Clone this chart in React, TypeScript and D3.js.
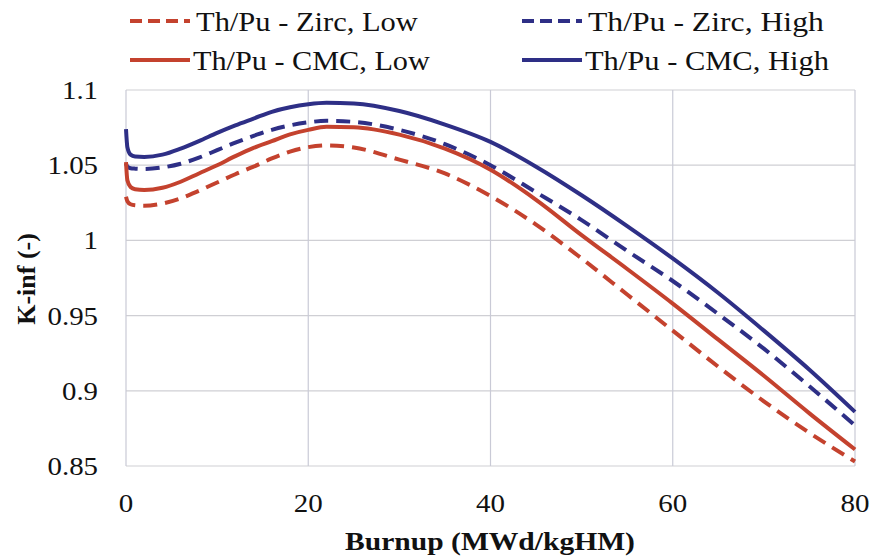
import React, { useEffect, useRef } from "react";
import * as d3 from "d3";

// burnup grid (MWd/kgHM) shared by all four series
const burnup = [0, 0.15, 0.5, 1, 2, 4, 6, 8, 10, 12, 14, 16, 18, 20, 22, 25, 30, 35, 40, 45, 50, 55, 60, 65, 70, 75, 80];

const zircLow = [1.029, 1.026, 1.024, 1.0233, 1.023, 1.0245, 1.028, 1.033, 1.0385, 1.044, 1.049, 1.0545, 1.059, 1.062, 1.0632, 1.0618, 1.0537, 1.0445, 1.0295, 1.0105, 0.988, 0.964, 0.94, 0.916, 0.893, 0.872, 0.853];
const zircHigh = [1.051, 1.049, 1.048, 1.0477, 1.0475, 1.0485, 1.051, 1.055, 1.06, 1.065, 1.0695, 1.0735, 1.0765, 1.0785, 1.0795, 1.0788, 1.0735, 1.064, 1.05, 1.032, 1.0135, 0.993, 0.973, 0.951, 0.928, 0.903, 0.877];
const cmcLow = [1.052, 1.04, 1.0355, 1.034, 1.0335, 1.035, 1.039, 1.0445, 1.05, 1.056, 1.0615, 1.066, 1.0705, 1.0735, 1.0755, 1.0752, 1.0703, 1.061, 1.047, 1.027, 1.0035, 0.981, 0.958, 0.934, 0.91, 0.885, 0.861];
const cmcHigh = [1.074, 1.062, 1.057, 1.0558, 1.0555, 1.057, 1.061, 1.066, 1.0715, 1.0765, 1.081, 1.0855, 1.0885, 1.0905, 1.0915, 1.091, 1.086, 1.077, 1.0655, 1.049, 1.03, 1.0095, 0.988, 0.965, 0.94, 0.914, 0.886];

const seriesNames = ["Th/Pu - Zirc, Low", "Th/Pu - Zirc, High", "Th/Pu - CMC, Low", "Th/Pu - CMC, High"];
const xTicks = [0, 20, 40, 60, 80];
const yTicks = [0.85, 0.9, 0.95, 1, 1.05, 1.1];
const yTickLabels = ["0.85", "0.9", "0.95", "1", "1.05", "1.1"];

const RED = "#c4422e";
const BLUE = "#2e2f86";

export default function App() {
  const ref = useRef<SVGSVGElement>(null);

  useEffect(() => {
    const svg = d3.select(ref.current);
    svg.selectAll("*").remove();

    const x = d3.scaleLinear().domain([0, 80]).range([126, 855]);
    const y = d3.scaleLinear().domain([0.85, 1.1]).range([466, 90]);

    const font = "'Liberation Serif', 'Times New Roman', Times, Tinos, 'Nimbus Roman', 'DejaVu Serif Condensed', serif";

    // text squeezed/stretched so it spans roughly the same width as in the original
    const txt = (s: string, tx: number, ty: number, size: number, anchor: string, width: number, bold = false) => {
      const t = svg
        .append("text")
        .attr("text-anchor", anchor)
        .style("font-family", font)
        .attr("font-size", size)
        .attr("font-weight", bold ? "bold" : "normal")
        .attr("fill", "#111")
        .text(s);
      const w = (t.node() as SVGTextElement).getComputedTextLength();
      const k = w > 0 ? width / w : 1;
      t.attr("transform", `translate(${tx},${ty}) scale(${k},1)`);
      return t;
    };

    // grid
    svg
      .selectAll("line.hgrid")
      .data(yTicks)
      .enter()
      .append("line")
      .attr("x1", x(0))
      .attr("x2", x(80))
      .attr("y1", (d) => y(d))
      .attr("y2", (d) => y(d))
      .attr("stroke", "#cfcfd4")
      .attr("stroke-width", 1.2);

    svg
      .selectAll("line.vgrid")
      .data(xTicks)
      .enter()
      .append("line")
      .attr("x1", (d) => x(d))
      .attr("x2", (d) => x(d))
      .attr("y1", y(1.1))
      .attr("y2", y(0.85))
      .attr("stroke", "#c9cad6")
      .attr("stroke-width", 1.2);

    // tick labels (about 13px per digit in the original)
    yTicks.forEach((d, i) => {
      const s = yTickLabels[i];
      const w = s.replace(".", "").length * 14.5 + (s.includes(".") ? 7 : 0);
      txt(s, 98, y(d) + 9, 25, "end", w);
    });
    xTicks.forEach((d) => txt(String(d), x(d), 512, 25, "middle", String(d).length * 14.5));

    // axis titles
    txt("Burnup (MWd/kgHM)", 490, 550, 26, "middle", 290, true);
    svg
      .append("text")
      .attr("transform", "translate(35,279) rotate(-90)")
      .attr("text-anchor", "middle")
      .style("font-family", font)
      .attr("font-size", 26)
      .attr("font-weight", "bold")
      .attr("fill", "#111")
      .text("K-inf (-)");

    // series
    const all = [
      { v: zircLow, c: RED, dash: "14,8" },
      { v: zircHigh, c: BLUE, dash: "14,8" },
      { v: cmcLow, c: RED, dash: null },
      { v: cmcHigh, c: BLUE, dash: null },
    ];
    const line = d3
      .line<number>()
      .x((_, i) => x(burnup[i]))
      .y((d) => y(d))
      .curve(d3.curveMonotoneX);

    all.forEach((s) => {
      svg
        .append("path")
        .attr("d", line(s.v))
        .attr("fill", "none")
        .attr("stroke", s.c)
        .attr("stroke-width", 4)
        .attr("stroke-dasharray", s.dash);
    });

    // legend
    const legX = [130, 522];
    const legY = [21, 60];
    const legW = [222, 236, 237, 244];
    all.forEach((s, i) => {
      const lx = legX[i % 2];
      const ly = legY[Math.floor(i / 2)];
      svg
        .append("line")
        .attr("x1", lx)
        .attr("x2", lx + 60)
        .attr("y1", ly)
        .attr("y2", ly)
        .attr("stroke", s.c)
        .attr("stroke-width", 4)
        .attr("stroke-dasharray", s.dash ? "12,6" : null);
      txt(seriesNames[i], lx + (s.dash ? 66 : 63), ly + 10, 28, "start", legW[i]);
    });
  }, []);

  return (
    <svg
      ref={ref}
      width={872}
      height={559}
      style={{ position: "absolute", left: 0, top: 0, background: "#fff" }}
    />
  );
}
